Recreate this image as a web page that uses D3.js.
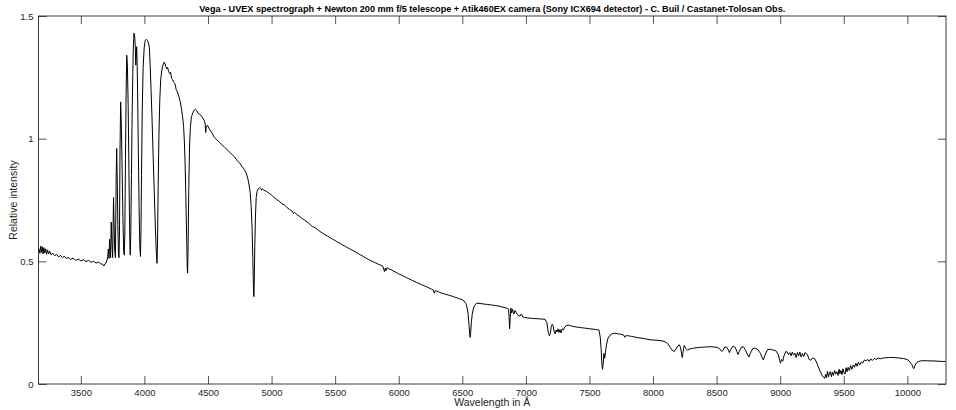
<!DOCTYPE html>
<html>
<head>
<meta charset="utf-8">
<script src="https://cdn.jsdelivr.net/npm/d3@7"></script>
<style>
  html, body { margin: 0; padding: 0; background: #fff; }
  svg { display: block; font-family: "Liberation Sans", Arial, Helvetica, sans-serif; }
</style>
</head>
<body>
<svg id="chart" width="956" height="410"></svg>
<script>
const titleText = "Vega - UVEX spectrograph + Newton 200 mm f/5 telescope + Atik460EX camera (Sony ICX694 detector) - C. Buil / Castanet-Tolosan Obs.";
const xLabelText = "Wavelength in Å";
const yLabelText = "Relative intensity";

const xTicks = [3500, 4000, 4500, 5000, 5500, 6000, 6500, 7000, 7500, 8000, 8500, 9000, 9500, 10000];
const xTickLabels = ["3500","4000","4500","5000","5500","6000","6500","7000","7500","8000","8500","9000","9500","10000"];
const yTicks = [0, 0.5, 1, 1.5];
const yTickLabels = ["0", "0.5", "1", "1.5"];
const xDomain = [3167, 10304];
const yDomain = [0, 1.5];

const wavelength = [
3170,3178,3184,3190,3196,3203,3209,3216,3223,3230,3238,3246,3255,3265,3280,3295,3310,3325,3340,3355,
3370,3385,3400,3420,3440,3460,3480,3500,3520,3540,3560,3580,3600,3620,3640,3655,3670,3682,3690,3698,
3706,3712,3716,3719,3722,3726,3730,3734,3739,3744,3750,3757,3762,3766,3772,3778,3782,3786,3791,3796,
3800,3804,3808,3813,3818,3824,3831,3837,3842,3846,3851,3856,3861,3866,3872,3877,3882,3886,3889,3893,
3898,3904,3912,3918,3922,3928,3932,3935,3939,3943,3947,3952,3958,3964,3969,3973,3977,3983,3990,3998,
4006,4015,4024,4032,4039,4045,4052,4060,4068,4077,4086,4093,4099,4103,4108,4114,4121,4128,4137,4146,
4155,4162,4168,4175,4182,4190,4198,4206,4214,4222,4230,4240,4250,4260,4272,4282,4292,4300,4308,4314,
4320,4326,4332,4337,4340,4344,4349,4355,4362,4370,4378,4388,4400,4410,4420,4432,4445,4458,4470,4478,
4482,4487,4495,4510,4530,4550,4570,4590,4610,4630,4650,4670,4690,4710,4730,4750,4770,4785,4800,4812,
4822,4832,4840,4847,4853,4858,4861,4864,4868,4873,4879,4886,4895,4905,4915,4922,4928,4940,4960,4980,
5000,5020,5040,5060,5080,5100,5120,5140,5160,5172,5180,5200,5220,5240,5260,5280,5300,5320,5340,5360,
5380,5400,5420,5440,5460,5480,5500,5520,5540,5560,5580,5600,5620,5640,5660,5680,5700,5720,5740,5760,
5780,5800,5820,5840,5860,5875,5882,5888,5894,5900,5908,5920,5940,5960,5980,6000,6020,6040,6060,6080,
6100,6120,6140,6160,6180,6200,6220,6240,6260,6272,6280,6288,6300,6320,6340,6360,6380,6400,6420,6440,
6460,6480,6500,6515,6528,6538,6546,6553,6558,6562,6566,6571,6578,6588,6600,6615,6640,6670,6700,6730,
6760,6790,6820,6850,6864,6868,6872,6877,6882,6888,6895,6905,6915,6925,6935,6945,6955,6962,6968,6975,
6990,7010,7034,7060,7090,7120,7150,7165,7177,7185,7192,7200,7207,7214,7222,7230,7238,7245,7252,7260,
7268,7276,7285,7295,7305,7320,7340,7360,7380,7400,7430,7460,7490,7520,7550,7575,7585,7592,7598,7603,
7609,7614,7620,7626,7634,7645,7660,7680,7700,7720,7745,7768,7778,7785,7800,7830,7860,7890,7920,7950,
7980,8010,8040,8070,8095,8115,8135,8150,8166,8180,8195,8206,8216,8224,8230,8236,8245,8258,8271,8290,
8310,8330,8360,8390,8420,8450,8480,8505,8525,8540,8550,8565,8580,8593,8600,8610,8630,8645,8660,8668,
8678,8695,8710,8725,8745,8755,8765,8785,8803,8825,8845,8860,8868,8878,8900,8921,8945,8965,8985,8996,
9003,9010,9020,9030,9045,9055,9065,9075,9085,9095,9105,9115,9125,9135,9145,9155,9165,9175,9185,9195,
9205,9215,9228,9240,9255,9270,9285,9300,9315,9330,9340,9350,9358,9365,9372,9380,9388,9395,9403,9410,
9418,9428,9436,9445,9455,9463,9470,9478,9486,9494,9502,9510,9518,9526,9534,9544,9554,9564,9575,9585,
9595,9605,9615,9625,9638,9650,9662,9675,9688,9700,9712,9725,9740,9755,9770,9790,9810,9830,9850,9870,
9890,9910,9930,9950,9970,9990,10005,10020,10035,10045,10052,10060,10070,10085,10100,10120,10150,10180,10210,10240,
10270,10300
];

const intensity = [
0.552,0.533,0.562,0.536,0.560,0.530,0.556,0.534,0.551,0.529,0.547,0.530,0.541,0.527,0.533,0.523,0.528,0.518,0.524,0.515,
0.521,0.511,0.516,0.508,0.513,0.504,0.509,0.502,0.507,0.499,0.504,0.496,0.500,0.493,0.497,0.490,0.489,0.481,0.490,0.493,
0.505,0.520,0.550,0.530,0.512,0.590,0.555,0.515,0.660,0.580,0.515,0.760,0.640,0.550,0.515,0.850,0.960,0.840,0.650,0.530,
0.515,0.620,0.950,1.150,1.070,0.900,0.680,0.540,0.525,0.620,0.920,1.180,1.340,1.300,1.140,0.930,0.700,0.560,0.525,0.620,
0.850,1.120,1.360,1.430,1.425,1.380,1.300,1.330,1.375,1.300,1.170,0.950,0.720,0.560,0.520,0.630,0.850,1.120,1.290,1.370,
1.400,1.405,1.400,1.390,1.370,1.300,1.200,1.080,0.940,0.790,0.640,0.540,0.492,0.570,0.800,1.010,1.160,1.240,1.280,1.300,
1.312,1.305,1.295,1.285,1.290,1.275,1.265,1.270,1.245,1.240,1.230,1.225,1.200,1.190,1.170,1.150,1.120,1.090,1.050,0.990,
0.900,0.760,0.600,0.470,0.452,0.580,0.800,0.970,1.050,1.090,1.100,1.115,1.120,1.115,1.105,1.100,1.095,1.085,1.075,1.060,
1.025,1.050,1.055,1.040,1.025,1.005,0.995,0.985,0.975,0.965,0.955,0.945,0.935,0.925,0.910,0.900,0.885,0.875,0.860,0.840,
0.815,0.780,0.720,0.630,0.500,0.380,0.356,0.420,0.560,0.680,0.760,0.785,0.795,0.800,0.798,0.790,0.795,0.790,0.785,0.778,
0.770,0.760,0.752,0.745,0.735,0.730,0.720,0.712,0.705,0.695,0.700,0.690,0.683,0.675,0.668,0.660,0.652,0.642,0.638,0.630,
0.622,0.615,0.609,0.603,0.597,0.590,0.585,0.578,0.573,0.566,0.561,0.555,0.549,0.544,0.538,0.532,0.526,0.520,0.514,0.508,
0.503,0.498,0.493,0.488,0.484,0.480,0.468,0.458,0.472,0.462,0.474,0.470,0.466,0.460,0.455,0.449,0.444,0.439,0.434,0.429,
0.424,0.419,0.414,0.410,0.405,0.400,0.396,0.391,0.386,0.383,0.370,0.381,0.378,0.374,0.370,0.367,0.364,0.361,0.358,0.354,
0.351,0.347,0.343,0.338,0.328,0.310,0.285,0.240,0.205,0.190,0.210,0.250,0.285,0.310,0.323,0.330,0.328,0.326,0.324,0.322,
0.320,0.317,0.313,0.309,0.305,0.270,0.225,0.270,0.310,0.290,0.305,0.285,0.300,0.290,0.282,0.278,0.277,0.284,0.283,0.273,
0.271,0.270,0.268,0.267,0.266,0.265,0.264,0.250,0.207,0.197,0.205,0.235,0.244,0.238,0.215,0.205,0.220,0.212,0.225,0.210,
0.222,0.208,0.225,0.220,0.232,0.238,0.240,0.236,0.234,0.232,0.230,0.228,0.226,0.224,0.222,0.220,0.190,0.140,0.080,0.060,
0.090,0.125,0.105,0.130,0.160,0.185,0.198,0.205,0.207,0.205,0.203,0.200,0.190,0.197,0.197,0.194,0.191,0.188,0.186,0.183,
0.180,0.179,0.178,0.176,0.172,0.165,0.150,0.138,0.132,0.142,0.155,0.160,0.150,0.125,0.108,0.130,0.157,0.145,0.138,0.143,
0.145,0.147,0.149,0.150,0.151,0.152,0.151,0.149,0.143,0.133,0.137,0.151,0.150,0.138,0.128,0.140,0.155,0.150,0.132,0.120,
0.132,0.150,0.152,0.140,0.118,0.110,0.125,0.145,0.146,0.140,0.125,0.105,0.098,0.115,0.140,0.142,0.138,0.136,0.120,0.095,
0.085,0.100,0.093,0.115,0.133,0.130,0.120,0.128,0.115,0.130,0.118,0.125,0.108,0.128,0.115,0.130,0.110,0.124,0.112,0.128,
0.125,0.118,0.100,0.097,0.106,0.104,0.090,0.070,0.050,0.035,0.028,0.023,0.040,0.025,0.052,0.030,0.045,0.050,0.030,0.048,
0.035,0.055,0.040,0.050,0.035,0.060,0.042,0.055,0.038,0.062,0.045,0.040,0.066,0.050,0.068,0.055,0.075,0.060,0.078,0.068,
0.085,0.072,0.088,0.078,0.090,0.085,0.098,0.095,0.100,0.092,0.102,0.096,0.104,0.100,0.105,0.103,0.106,0.107,0.108,0.108,
0.108,0.107,0.106,0.105,0.104,0.101,0.098,0.090,0.080,0.066,0.063,0.075,0.085,0.091,0.094,0.095,0.095,0.094,0.094,0.093,
0.092,0.092
];

const margin = { left: 38.5, top: 16 };
const plotRight = 946, plotBottom = 384;

const svg = d3.select("#chart");
const x = d3.scaleLinear().domain(xDomain).range([margin.left, plotRight]);
const y = d3.scaleLinear().domain(yDomain).range([plotBottom, margin.top]);

const axisColor = "#262626";
const tickLen = 8;

// Spectrum
const pts = wavelength.map((w, i) => [w, intensity[i]]);
svg.append("path")
  .datum(pts)
  .attr("fill", "none")
  .attr("stroke", "#000")
  .attr("stroke-width", 1)
  .attr("stroke-linejoin", "round")
  .attr("d", d3.line().x(d => x(d[0])).y(d => y(d[1])));

function styleAxis(g) {
  g.select(".domain").remove();
  g.selectAll(".tick line").attr("stroke", axisColor).attr("stroke-width", 0.8);
  g.selectAll(".tick text").attr("fill", axisColor).attr("font-size", "9.5px")
    .attr("font-family", "'Liberation Sans', Arial, sans-serif");
}

svg.append("g").attr("transform", `translate(0,${plotBottom})`)
  .call(d3.axisBottom(x).tickValues(xTicks).tickFormat((d, i) => xTickLabels[i]).tickSizeInner(-tickLen).tickSizeOuter(0).tickPadding(5))
  .call(styleAxis);
svg.append("g").attr("transform", `translate(0,${margin.top})`)
  .call(d3.axisTop(x).tickValues(xTicks).tickFormat("").tickSizeInner(-tickLen).tickSizeOuter(0))
  .call(styleAxis);
svg.append("g").attr("transform", `translate(${margin.left},0)`)
  .call(d3.axisLeft(y).tickValues(yTicks).tickFormat((d, i) => yTickLabels[i]).tickSizeInner(-tickLen).tickSizeOuter(0).tickPadding(5))
  .call(styleAxis);
svg.append("g").attr("transform", `translate(${plotRight},0)`)
  .call(d3.axisRight(y).tickValues(yTicks).tickFormat("").tickSizeInner(-tickLen).tickSizeOuter(0))
  .call(styleAxis);

// Frame
svg.append("rect")
  .attr("x", margin.left).attr("y", margin.top)
  .attr("width", plotRight - margin.left).attr("height", plotBottom - margin.top)
  .attr("fill", "none").attr("stroke", axisColor).attr("stroke-width", 0.9);

// Title
svg.append("text")
  .attr("x", (margin.left + plotRight) / 2).attr("y", 12)
  .attr("text-anchor", "middle")
  .attr("font-size", "9.5px").attr("font-weight", "bold").attr("fill", "#000")
  .attr("textLength", 586).attr("lengthAdjust", "spacingAndGlyphs")
  .text(titleText);

// Axis labels
svg.append("text")
  .attr("x", (margin.left + plotRight) / 2).attr("y", 406)
  .attr("text-anchor", "middle").attr("font-size", "10.5px").attr("fill", axisColor)
  .text(xLabelText);
svg.append("text")
  .attr("transform", `translate(17,${(margin.top + plotBottom) / 2}) rotate(-90)`)
  .attr("text-anchor", "middle").attr("font-size", "10.5px").attr("fill", axisColor)
  .text(yLabelText);
</script>
</body>
</html>
